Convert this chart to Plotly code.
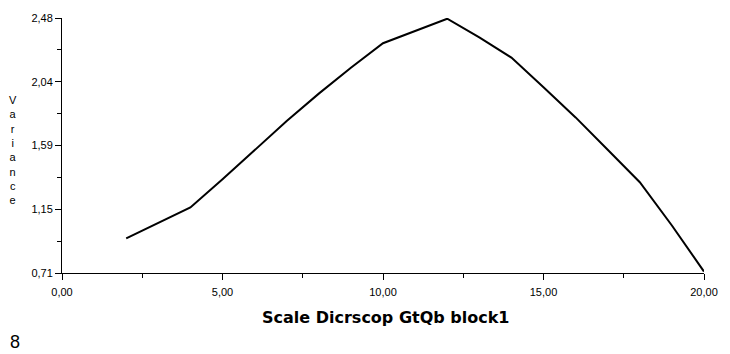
import plotly.graph_objects as go

x_vals = [2, 2.5, 3, 4, 5, 6, 7, 8, 9, 10, 11, 12, 13, 14, 15, 16, 17, 18, 19, 20]
variance = [0.95, 1.005, 1.06, 1.165, 1.36, 1.565, 1.765, 1.955, 2.135, 2.305,
            2.39, 2.475, 2.345, 2.205, 2.0, 1.79, 1.565, 1.34, 1.04, 0.72]

x_ticks = [0, 5, 10, 15, 20]
x_tick_labels = ["0,00", "5,00", "10,00", "15,00", "20,00"]
y_ticks = [0.71, 1.1525, 1.595, 2.0375, 2.48]
y_tick_labels = ["0,71", "1,15", "1,59", "2,04", "2,48"]

x_title = "Scale Dicrscop GtQb block1"
y_title = "Variance"
footer = "8"

fig = go.Figure()
fig.add_trace(go.Scatter(x=x_vals, y=variance, mode="lines",
                         line=dict(color="black", width=2), showlegend=False))

tick_font = dict(family="Liberation Sans, Arial, sans-serif", size=11, color="black")

fig.update_layout(
    width=730, height=354,
    margin=dict(l=62, r=19, t=17, b=81),
    paper_bgcolor="white", plot_bgcolor="white",
    xaxis=dict(range=[0, 20], tickvals=x_ticks, ticktext=x_tick_labels,
               showgrid=False, zeroline=False, showline=True, linecolor="black",
               linewidth=1, ticks="outside", ticklen=6, tickcolor="black",
               tickfont=tick_font, ticklabelstandoff=3,
               minor=dict(dtick=2.5, tick0=0, ticks="outside", ticklen=4,
                          tickcolor="black", showgrid=False)),
    yaxis=dict(range=[0.71, 2.48], tickvals=y_ticks, ticktext=y_tick_labels,
               showgrid=False, zeroline=False, showline=True, linecolor="black",
               linewidth=1, ticks="outside", ticklen=6, tickcolor="black",
               tickfont=tick_font,
               minor=dict(dtick=0.22125, tick0=0.71, ticks="outside", ticklen=4,
                          tickcolor="black", showgrid=False)),
)

fig.add_annotation(text="<b>" + x_title + "</b>", xref="paper", yref="paper",
                   x=(389 - 62) / 649, y=-(318 - 273) / 256, xanchor="center", yanchor="middle",
                   showarrow=False,
                   font=dict(family="DejaVu Sans, sans-serif", size=16, color="black"))
fig.add_annotation(text="<br>".join(list(y_title)), xref="paper", yref="paper",
                   x=-50 / 649, y=(273 - 150) / 256, xanchor="center", yanchor="middle",
                   showarrow=False, align="center",
                   font=dict(family="Liberation Sans, Arial, sans-serif", size=11, color="black"))
fig.add_annotation(text=footer, xref="paper", yref="paper",
                   x=-55 / 649, y=-(342 - 273) / 256, xanchor="left", yanchor="middle",
                   showarrow=False,
                   font=dict(family="Liberation Sans, Arial, sans-serif", size=18, color="black"))

fig.write_html("out.html")
